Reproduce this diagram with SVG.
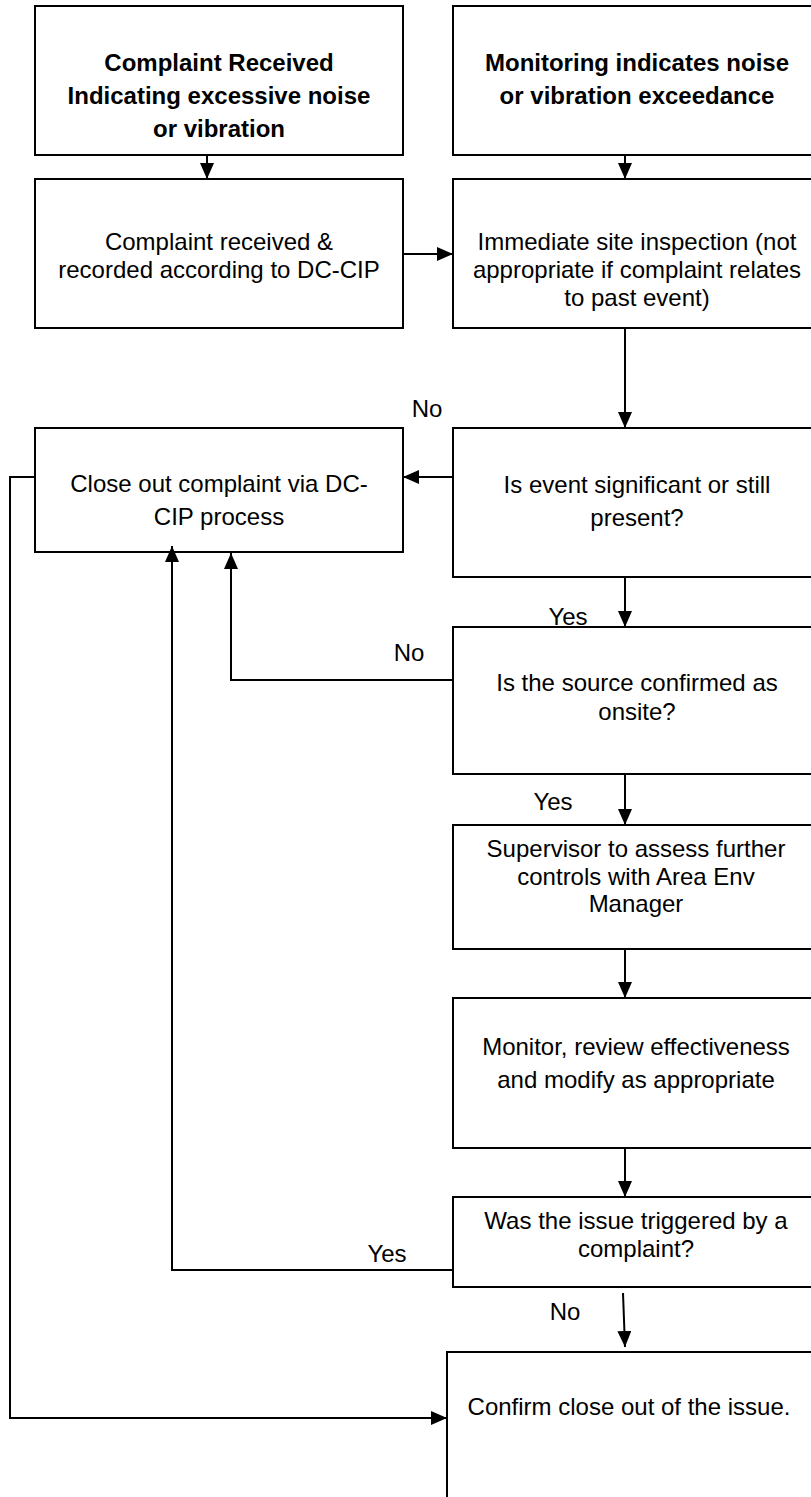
<svg xmlns="http://www.w3.org/2000/svg" width="811" height="1497" viewBox="0 0 811 1497">
<style>
  .box { fill: #ffffff; stroke: #000000; stroke-width: 2; }
  .t { font-family: "Liberation Sans", Arial, sans-serif; font-size: 24px; fill: #000000; text-anchor: middle; }
  .b { font-weight: bold; }
  .lbl { font-family: "Liberation Sans", Arial, sans-serif; font-size: 24px; fill: #000000; text-anchor: middle; }
  .c { fill: none; stroke: #000000; stroke-width: 2; }
</style>
<defs>
  <marker id="ah" markerUnits="userSpaceOnUse" markerWidth="16" markerHeight="14" refX="16" refY="7" orient="auto">
    <path d="M0,0 L16,7 L0,14 Z" fill="#000000"/>
  </marker>
</defs>
<rect width="811" height="1497" fill="#ffffff"/>

<g id="node-complaint-received">
  <rect class="box" x="35" y="6" width="368" height="149"/>
  <text class="t b" x="219" y="71">Complaint Received</text>
  <text class="t b" x="219" y="104">Indicating excessive noise</text>
  <text class="t b" x="219" y="137">or vibration</text>
</g>
<g id="node-monitoring">
  <rect class="box" x="453" y="6" width="368" height="149"/>
  <text class="t b" x="637" y="71">Monitoring indicates noise</text>
  <text class="t b" x="637" y="104">or vibration exceedance</text>
</g>
<g id="node-recorded">
  <rect class="box" x="35" y="179" width="368" height="149"/>
  <text class="t" x="219" y="250">Complaint received &amp;</text>
  <text class="t" x="219" y="278">recorded according to DC-CIP</text>
</g>
<g id="node-inspection">
  <rect class="box" x="453" y="179" width="368" height="149"/>
  <text class="t" x="637" y="250">Immediate site inspection (not</text>
  <text class="t" x="637" y="278">appropriate if complaint relates</text>
  <text class="t" x="637" y="306">to past event)</text>
</g>
<g id="node-close-out">
  <rect class="box" x="35" y="428" width="368" height="124"/>
  <text class="t" x="219" y="492">Close out complaint via DC-</text>
  <text class="t" x="219" y="525">CIP process</text>
</g>
<g id="node-significant">
  <rect class="box" x="453" y="428" width="368" height="149"/>
  <text class="t" x="637" y="493">Is event significant or still</text>
  <text class="t" x="637" y="526">present?</text>
</g>
<g id="node-source">
  <rect class="box" x="453" y="627" width="368" height="147"/>
  <text class="t" x="637" y="691">Is the source confirmed as</text>
  <text class="t" x="637" y="720">onsite?</text>
</g>
<g id="node-supervisor">
  <rect class="box" x="453" y="825" width="368" height="124"/>
  <text class="t" x="636" y="857">Supervisor to assess further</text>
  <text class="t" x="636" y="885">controls with Area Env</text>
  <text class="t" x="636" y="912">Manager</text>
</g>
<g id="node-monitor-review">
  <rect class="box" x="453" y="998" width="368" height="150"/>
  <text class="t" x="636" y="1055">Monitor, review effectiveness</text>
  <text class="t" x="636" y="1088">and modify as appropriate</text>
</g>
<g id="node-triggered">
  <rect class="box" x="453" y="1197" width="368" height="90"/>
  <text class="t" x="636" y="1229">Was the issue triggered by a</text>
  <text class="t" x="636" y="1257">complaint?</text>
</g>
<g id="node-confirm">
  <rect class="box" x="447" y="1352" width="374" height="160"/>
  <text class="t" x="629" y="1415">Confirm close out of the issue.</text>
</g>

<g id="connectors">
  <line class="c" x1="207" y1="155" x2="207" y2="179" marker-end="url(#ah)"/>
  <line class="c" x1="625" y1="155" x2="625" y2="179" marker-end="url(#ah)"/>
  <line class="c" x1="403" y1="254" x2="453" y2="254" marker-end="url(#ah)"/>
  <line class="c" x1="625" y1="328" x2="625" y2="428" marker-end="url(#ah)"/>
  <line class="c" x1="453" y1="477" x2="403" y2="477" marker-end="url(#ah)"/>
  <line class="c" x1="625" y1="577" x2="625" y2="627" marker-end="url(#ah)"/>
  <polyline class="c" points="453,680 231,680 231,553" marker-end="url(#ah)"/>
  <line class="c" x1="625" y1="774" x2="625" y2="825" marker-end="url(#ah)"/>
  <line class="c" x1="625" y1="949" x2="625" y2="998" marker-end="url(#ah)"/>
  <line class="c" x1="625" y1="1148" x2="625" y2="1197" marker-end="url(#ah)"/>
  <polyline class="c" points="453,1270 172,1270 172,546" marker-end="url(#ah)"/>
  <line class="c" x1="623" y1="1293" x2="625" y2="1347" marker-end="url(#ah)"/>
  <polyline class="c" points="35,477 10,477 10,1418 447,1418" marker-end="url(#ah)"/>
  <text class="lbl" x="427" y="417">No</text>
  <text class="lbl" x="568" y="625">Yes</text>
  <text class="lbl" x="409" y="661">No</text>
  <text class="lbl" x="553" y="810">Yes</text>
  <text class="lbl" x="387" y="1262">Yes</text>
  <text class="lbl" x="565" y="1320">No</text>
</g>
</svg>
